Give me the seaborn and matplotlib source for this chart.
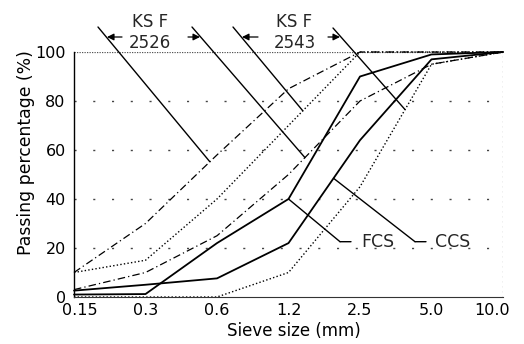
import numpy as np
import pandas as pd
import seaborn as sns
import matplotlib
matplotlib.use("Agg")
import matplotlib.pyplot as plt
from matplotlib.transforms import ScaledTranslation

# ---- data ----
sieve = ["0.15", "0.3", "0.6", "1.2", "2.5", "5.0", "10.0"]
fcs = [1, 1.2, 22, 40, 90, 99, 100]
ccs = [2.6, 5, 7.6, 22, 64, 97, 100]
ks2526_upper = [10, 30, 58, 85, 100, 100, 100]
ks2526_lower = [3, 10, 25, 50, 80, 95, 100]
ks2543_upper = [10, 15, 40, 70, 100, 100, 100]
ks2543_lower = [0, 0, 0, 10, 45, 95, 100]
yticks = [0, 20, 40, 60, 80, 100]

W, H = 524, 344
sns.set_theme(style="white")
plt.rcParams["font.family"] = ["DejaVu Sans"]

fig = plt.figure(figsize=(W / 100, H / 100), dpi=100)
ax = fig.add_axes([74 / W, 1 - 297 / H, 429 / W, 245 / H])

pos = np.arange(len(sieve))
styles = [
    (ks2543_lower, (0, (1, 1.6)), 1.0),
    (ks2543_upper, (0, (1, 1.6)), 1.0),
    (ks2526_lower, (0, (6, 2.5, 1, 2.5)), 0.9),
    (ks2526_upper, (0, (6, 2.5, 1, 2.5)), 0.9),
    (ccs, "-", 1.3),
    (fcs, "-", 1.3),
]
for vals, ls, lw in styles:
    df = pd.DataFrame({"pos": pos, "val": vals})
    sns.lineplot(data=df, x="pos", y="val", ax=ax, color="black",
                 linestyle=ls, linewidth=lw, sort=False, legend=False,
                 clip_on=False)

# grid / frame
for yv in yticks[1:-1]:
    ax.axhline(yv, color="#444444", lw=1.0, linestyle=(0, (1.5, 12)), zorder=0)
ax.axhline(100, color="#555555", lw=0.9, linestyle=(0, (1, 1)), zorder=0)
ax.axvline(len(sieve) - 1, color="#666666", lw=0.9, linestyle=(0, (1, 3)), zorder=0)

ax.set_xlim(0, len(sieve) - 1)
ax.set_ylim(0, 100)
for s in ["top", "right"]:
    ax.spines[s].set_visible(False)
ax.spines["left"].set_color("black")
ax.spines["left"].set_linewidth(1.0)
ax.spines["bottom"].set_color("#333333")
ax.spines["bottom"].set_linewidth(0.8)

ax.set_xticks(pos)
ax.set_xticklabels(sieve)
ax.set_yticks(yticks)
ax.set_yticklabels([str(v) for v in yticks])
ax.tick_params(axis="both", direction="in", length=3, width=0.8,
               colors="black", labelsize=11.5)
ax.tick_params(axis="x", pad=4.5)
ax.tick_params(axis="y", pad=6)
xl = ax.get_xticklabels()
xl[0].set_transform(xl[0].get_transform() + ScaledTranslation(6 / 100, 0, fig.dpi_scale_trans))
xl[-1].set_transform(xl[-1].get_transform() + ScaledTranslation(-11 / 100, 0, fig.dpi_scale_trans))

ax.set_xlabel("Sieve size (mm)", fontsize=12, color="black")
ax.set_ylabel("Passing percentage (%)", fontsize=12.4, color="black", va="center")
ax.xaxis.set_label_coords((294 - 74) / 429, (297 - 322.5) / 245)
ax.yaxis.set_label_coords((26 - 74) / 429, (297 - 153) / 245)


def interp(vals, xp):
    return float(np.interp(xp, pos, vals))


def fp(px, py):
    return (px, H - py)


lk = dict(arrowstyle="-", color="black", lw=1.0, shrinkA=0, shrinkB=0)

# KS F leader lines (figure-pixel start, data target on the curve)
leaders = [
    ((98, 27), ks2526_upper, 1.9),
    ((192, 27), ks2526_lower, 3.23),
    ((233, 27), ks2543_upper, 3.2),
    ((333, 28), ks2543_lower, 4.63),
]
for (sx, sy), vals, xp in leaders:
    ax.annotate("", xy=(xp, interp(vals, xp)), xycoords="data",
                xytext=fp(sx, sy), textcoords="figure pixels",
                arrowprops=lk, annotation_clip=False)

# arrows beside the KS F labels
ak = dict(arrowstyle="-|>", color="black", lw=0.9, shrinkA=0, shrinkB=0,
          mutation_scale=10)
for tail, head in [((122, 37), (107, 37)), ((188, 37), (200, 37)),
                   ((258, 37), (242, 37)), ((328, 37), (340, 37))]:
    ax.annotate("", xy=fp(*head), xycoords="figure pixels",
                xytext=fp(*tail), textcoords="figure pixels",
                arrowprops=ak, annotation_clip=False)

for cx, code in [(150, "2526"), (294.5, "2543")]:
    fig.text(cx / W, 1 - 21.7 / H, "KS F", ha="center", va="center", fontsize=12)
    fig.text(cx / W, 1 - 42.5 / H, code, ha="center", va="center", fontsize=12)

# FCS / CCS labels
ax.annotate("", xy=(3, interp(fcs, 3)), xycoords="data",
            xytext=fp(340, 241.7), textcoords="figure pixels",
            arrowprops=lk, annotation_clip=False)
ax.annotate("", xy=fp(340, 241.7), xycoords="figure pixels",
            xytext=fp(351, 241.7), textcoords="figure pixels",
            arrowprops=lk, annotation_clip=False)
ax.annotate("", xy=(3.63, interp(ccs, 3.63)), xycoords="data",
            xytext=fp(415, 241.7), textcoords="figure pixels",
            arrowprops=lk, annotation_clip=False)
ax.annotate("", xy=fp(415, 241.7), xycoords="figure pixels",
            xytext=fp(426, 241.7), textcoords="figure pixels",
            arrowprops=lk, annotation_clip=False)
fig.text(361 / W, 1 - 242 / H, "FCS", ha="left", va="center", fontsize=12.5)
fig.text(435 / W, 1 - 242 / H, "CCS", ha="left", va="center", fontsize=12.5)

fig.savefig("out.png", dpi=100, facecolor="white")
